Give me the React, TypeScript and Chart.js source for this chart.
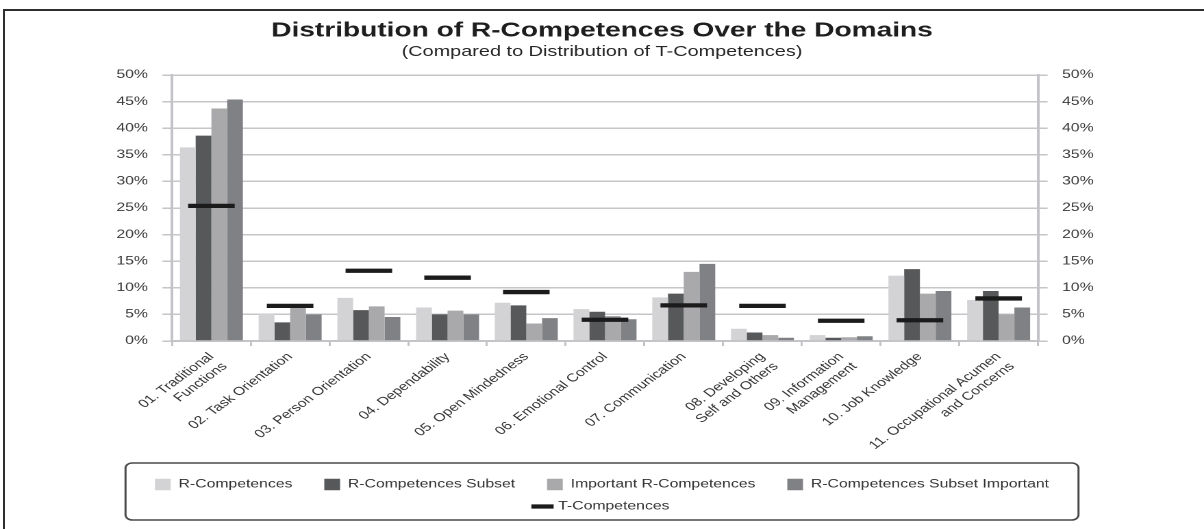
import React, { useEffect, useRef } from 'react';
import { Chart, registerables } from 'chart.js';

Chart.register(...registerables);

const categories: (string | string[])[] = [
  ['01. Traditional', 'Functions'],
  '02. Task Orientation',
  '03. Person Orientation',
  '04. Dependability',
  '05. Open Mindedness',
  '06. Emotional Control',
  '07. Communication',
  ['08. Developing', 'Self and Others'],
  ['09. Information', 'Management'],
  '10. Job Knowledge',
  ['11. Occupational Acumen', 'and Concerns'],
];

const seriesNames = [
  'R-Competences',
  'R-Competences Subset',
  'Important R-Competences',
  'R-Competences Subset Important',
  'T-Competences',
];

const rCompetences = [36.4, 5.1, 8.1, 6.3, 7.2, 6.0, 8.2, 2.3, 1.1, 12.3, 7.7];
const rCompetencesSubset = [38.6, 3.5, 5.8, 5.0, 6.7, 5.5, 8.9, 1.6, 0.6, 13.5, 9.4];
const importantRCompetences = [43.7, 6.3, 6.5, 5.7, 3.3, 4.7, 13.0, 1.1, 0.7, 8.9, 5.0];
const rCompetencesSubsetImportant = [45.4, 5.0, 4.5, 5.0, 4.3, 4.1, 14.5, 0.6, 0.9, 9.4, 6.3];
const tCompetences = [25.4, 6.6, 13.2, 11.9, 9.2, 4.0, 6.7, 6.6, 3.8, 3.9, 8.0];

const yTickValues = [0, 5, 10, 15, 20, 25, 30, 35, 40, 45, 50];

const barColors = ['#d3d3d5', '#56585a', '#a9a9ab', '#808184'];
const lineColor = '#1b1b1b';

// The reference picture is horizontally stretched; the chart is drawn at a
// narrower logical width and scaled on the x axis to match.
const PAGE_W = 1204;
const PAGE_H = 529;
const LOGICAL_W = 879;
const STRETCH = PAGE_W / LOGICAL_W;

const FONT = '"Liberation Sans", Arial, "Helvetica Neue", sans-serif';
const NBSP = '\u00A0\u00A0\u00A0\u00A0';

const legendBorder = {
  id: 'legendBorder',
  afterDraw(chart: any) {
    const lg = chart.legend;
    if (!lg || !lg.legendHitBoxes || !lg.legendHitBoxes.length) return;
    const hb = lg.legendHitBoxes;
    const left = Math.min(...hb.map((h: any) => h.left)) - 21.5;
    const right = Math.max(...hb.map((h: any) => h.left + h.width)) + 21.5;
    const first = hb[0];
    const last = hb[hb.length - 1];
    const top = first.top + first.height / 2 - 21.5;
    const bottom = last.top + last.height / 2 + 13.5;
    const ctx = chart.ctx;
    ctx.save();
    ctx.strokeStyle = '#4a4a4a';
    ctx.lineWidth = 1.5;
    ctx.beginPath();
    if ((ctx as any).roundRect) {
      (ctx as any).roundRect(left, top, right - left, bottom - top, 5);
    } else {
      ctx.rect(left, top, right - left, bottom - top);
    }
    ctx.stroke();
    ctx.restore();
  },
};

export default function App() {
  const canvasRef = useRef<HTMLCanvasElement | null>(null);

  useEffect(() => {
    if (!canvasRef.current) return;
    Chart.defaults.font.family = FONT;

    const gridColor = '#c5c5ca';
    const axisColor = '#c3c3c8';

    const chart = new Chart(canvasRef.current, {
      type: 'bar',
      data: {
        labels: categories,
        datasets: [
          {
            type: 'bar',
            label: seriesNames[0],
            data: rCompetences,
            backgroundColor: barColors[0],
            borderWidth: 0,
            order: 1,
          },
          {
            type: 'bar',
            label: seriesNames[1],
            data: rCompetencesSubset,
            backgroundColor: barColors[1],
            borderWidth: 0,
            order: 1,
          },
          {
            type: 'bar',
            label: seriesNames[2],
            data: importantRCompetences,
            backgroundColor: barColors[2],
            borderWidth: 0,
            order: 1,
          },
          {
            type: 'bar',
            label: seriesNames[3],
            data: rCompetencesSubsetImportant,
            backgroundColor: barColors[3],
            borderWidth: 0,
            order: 1,
          },
          {
            type: 'line',
            label: seriesNames[4],
            data: tCompetences,
            showLine: false,
            pointStyle: 'line',
            pointRadius: 17,
            pointHoverRadius: 17,
            pointBorderWidth: 4.3,
            pointHoverBorderWidth: 4.3,
            borderColor: lineColor,
            backgroundColor: lineColor,
            pointBorderColor: lineColor,
            order: 0,
          } as any,
        ],
      },
      options: {
        responsive: false,
        devicePixelRatio: 2,
        animation: false,
        events: [],
        datasets: {
          bar: { categoryPercentage: 0.8, barPercentage: 1.0 },
        },
        layout: { padding: { left: 60, right: 60, top: 0, bottom: 6.75 } },
        scales: {
          x: {
            type: 'category',
            offset: true,
            grid: {
              display: true,
              drawOnChartArea: false,
              drawTicks: true,
              tickLength: 5,
              color: axisColor,
              lineWidth: 1.5,
              offset: true,
            },
            border: { display: true, color: axisColor, width: 2 },
            ticks: {
              autoSkip: false,
              maxRotation: 45,
              minRotation: 45,
              padding: 4,
              color: '#333333',
              font: { size: 11.5, family: FONT },
            },
            afterFit: (scale: any) => {
              scale.height = 127.25;
            },
          },
          y: {
            type: 'linear',
            position: 'left',
            min: 0,
            max: 50,
            afterBuildTicks: (scale: any) => {
              scale.ticks = yTickValues.map((v) => ({ value: v }));
            },
            grid: {
              color: gridColor,
              lineWidth: 1.5,
              drawTicks: true,
              tickLength: 7,
            },
            border: { display: true, color: axisColor, width: 2 },
            ticks: {
              padding: 10.6,
              color: '#3a3a3a',
              font: { size: 11.5, family: FONT },
              callback: (v: any) => `${v}%`,
            },
            afterFit: (scale: any) => {
              scale.width = 65.6;
            },
          },
          y2: {
            type: 'linear',
            position: 'right',
            min: 0,
            max: 50,
            afterBuildTicks: (scale: any) => {
              scale.ticks = yTickValues.map((v) => ({ value: v }));
            },
            grid: {
              color: gridColor,
              lineWidth: 1.5,
              drawOnChartArea: false,
              drawTicks: true,
              tickLength: 7,
            },
            border: { display: true, color: axisColor, width: 2 },
            ticks: {
              padding: 10.6,
              color: '#3a3a3a',
              font: { size: 11.5, family: FONT },
              callback: (v: any) => `${v}%`,
            },
            afterFit: (scale: any) => {
              scale.width = 61.2;
            },
          },
        },
        plugins: {
          title: {
            display: true,
            text: 'Distribution of R-Competences Over the Domains',
            color: '#1e1e1e',
            font: { size: 20.5, weight: 'bold', family: FONT, lineHeight: 1.2 },
            padding: { top: 18.7, bottom: 0 },
          },
          subtitle: {
            display: true,
            text: '(Compared to Distribution of T-Competences)',
            color: '#262626',
            font: { size: 14.5, weight: 'normal', family: FONT, lineHeight: 1.2 },
            padding: { top: 0, bottom: 14.3 },
          },
          legend: {
            display: true,
            position: 'bottom',
            labels: {
              usePointStyle: true,
              padding: 10.5,
              color: '#333333',
              font: { size: 11.5, family: FONT },
              generateLabels: (c: any) =>
                c.data.datasets.map((ds: any, i: number) => {
                  const isLine = i === 4;
                  return {
                    text: isLine || i === 3 ? ds.label : ds.label + NBSP,
                    fillStyle: isLine ? lineColor : ds.backgroundColor,
                    strokeStyle: isLine ? lineColor : ds.backgroundColor,
                    lineWidth: isLine ? 4.3 : 0,
                    pointStyle: isLine ? 'line' : 'rect',
                    hidden: false,
                    datasetIndex: i,
                    fontColor: '#333333',
                  };
                }),
            },
          },
          tooltip: { enabled: false },
        },
      } as any,
      plugins: [legendBorder],
    });

    return () => {
      chart.destroy();
    };
  }, []);

  return (
    <div
      style={{
        position: 'absolute',
        left: 0,
        top: 0,
        width: PAGE_W,
        height: PAGE_H,
        overflow: 'hidden',
        background: '#ffffff',
      }}
    >
      <div
        style={{
          position: 'absolute',
          left: 3,
          top: 9,
          width: 1400,
          height: 700,
          borderLeft: '2px solid #2e2e2e',
          borderTop: '2px solid #2e2e2e',
        }}
      />
      <div
        style={{
          position: 'absolute',
          left: 0,
          top: 0,
          width: LOGICAL_W,
          height: PAGE_H,
          transform: `scaleX(${STRETCH})`,
          transformOrigin: '0 0',
        }}
      >
        <canvas ref={canvasRef} width={LOGICAL_W} height={PAGE_H} style={{ display: 'block' }} />
      </div>
    </div>
  );
}
